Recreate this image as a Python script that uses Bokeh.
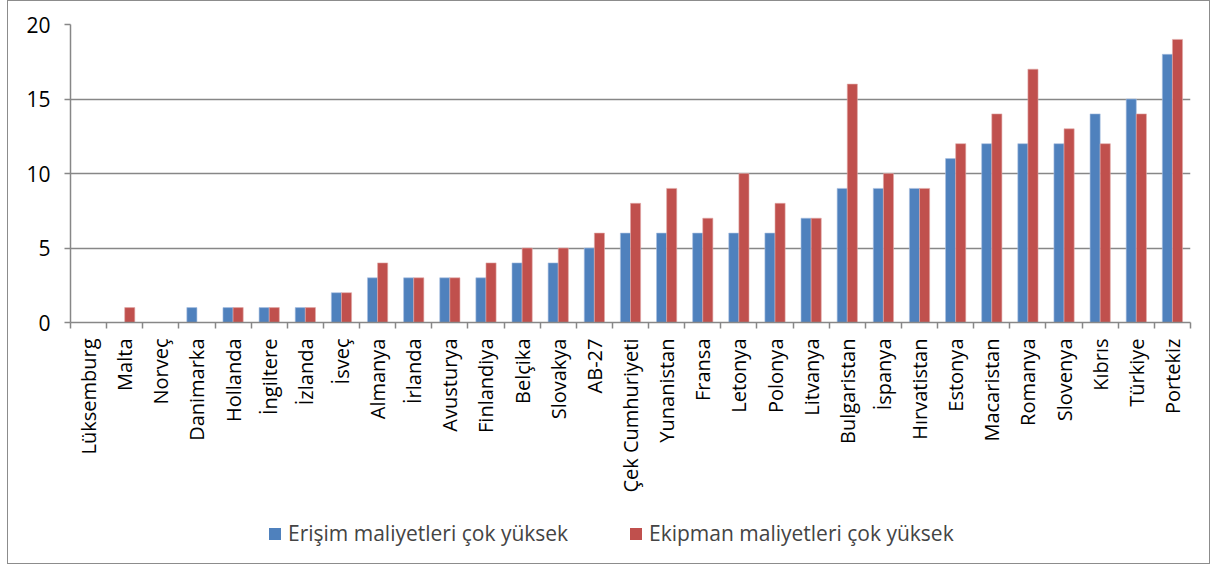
import math
from bokeh.plotting import figure
from bokeh.layouts import column
from bokeh.models import Range1d, FixedTicker, Legend, LegendItem
from bokeh.embed import file_html
from bokeh.resources import INLINE

countries = ["Lüksemburg", "Malta", "Norveç", "Danimarka", "Hollanda", "İngiltere", "İzlanda",
             "İsveç", "Almanya", "İrlanda", "Avusturya", "Finlandiya", "Belçika", "Slovakya",
             "AB-27", "Çek Cumhuriyeti", "Yunanistan", "Fransa", "Letonya", "Polonya", "Litvanya",
             "Bulgaristan", "İspanya", "Hırvatistan", "Estonya", "Macaristan", "Romanya",
             "Slovenya", "Kıbrıs", "Türkiye", "Portekiz"]
erisim = [0, 0, 0, 1, 1, 1, 1, 2, 3, 3, 3, 3, 4, 4, 5, 6, 6, 6, 6, 6, 7, 9, 9, 9, 11, 12, 12, 12, 14, 15, 18]
ekipman = [0, 1, 0, 0, 1, 1, 1, 2, 4, 3, 3, 4, 5, 5, 6, 8, 9, 7, 10, 8, 7, 16, 10, 9, 12, 14, 17, 13, 12, 14, 19]
series_names = ["Erişim maliyetleri çok yüksek", "Ekipman maliyetleri çok yüksek"]
y_ticks = [0, 5, 10, 15, 20]

FONT = "Open Sans"
BLUE = "#4F81BD"
RED = "#C0504D"
GRAY = "#878787"

n = len(countries)
centers = [i + 0.5 for i in range(n)]
bounds = [float(i) for i in range(n + 1)]

W = 1201
H_MAIN = 517
H_LEG = 45

p = figure(width=W, height=H_MAIN, output_backend="svg", toolbar_location=None,
           x_range=Range1d(0, n), y_range=Range1d(0, 20),
           min_border_left=62, min_border_right=19, min_border_top=23, min_border_bottom=196)
p.outline_line_color = None
p.background_fill_color = "white"
p.border_fill_color = "white"

bw = 0.28
r1 = p.vbar(x=[c - bw / 2 for c in centers], top=erisim, width=bw, fill_color=BLUE,
            line_color="#a9c0e0", line_width=0.6)
r2 = p.vbar(x=[c + bw / 2 for c in centers], top=ekipman, width=bw, fill_color=RED,
            line_color="#e0a9a8", line_width=0.6)

# x axis
xa = p.xaxis[0]
xa.ticker = FixedTicker(ticks=centers, minor_ticks=bounds)
xa.major_label_overrides = {c: name for c, name in zip(centers, countries)}
xa.major_label_orientation = math.pi / 2
xa.major_tick_out = 0
xa.major_tick_in = 0
xa.minor_tick_out = 6
xa.minor_tick_in = 0
xa.minor_tick_line_color = GRAY
xa.axis_line_color = GRAY
xa.axis_line_width = 1.5
xa.minor_tick_line_width = 1.5
xa.major_label_text_font = FONT
xa.major_label_text_font_size = "20px"
xa.major_label_text_color = "black"
xa.major_label_standoff = 10

# y axis
ya = p.yaxis[0]
ya.ticker = FixedTicker(ticks=y_ticks)
ya.minor_tick_line_color = None
ya.major_tick_out = 6
ya.major_tick_in = 0
ya.major_tick_line_color = GRAY
ya.major_tick_line_width = 1.5
ya.axis_line_color = GRAY
ya.axis_line_width = 1.5
ya.major_label_text_font = FONT
ya.major_label_text_font_size = "21px"
ya.major_label_text_color = "black"
ya.major_label_standoff = 14

p.xgrid.grid_line_color = None
p.ygrid.ticker = FixedTicker(ticks=y_ticks[1:])
p.ygrid.grid_line_color = GRAY
p.ygrid.grid_line_width = 1.5

# legend strip
lf = figure(width=W, height=H_LEG, output_backend="svg", toolbar_location=None,
            x_range=Range1d(0, 1), y_range=Range1d(0, 1), min_border=0,
            x_axis_location=None, y_axis_location=None)
lf.grid.visible = False
lf.outline_line_color = None
lf.border_fill_color = "white"
lf.background_fill_color = "white"
lr1 = lf.vbar(x=[0.5], top=[0], bottom=[0], width=0.1, fill_color=BLUE, line_color=None)
lr2 = lf.vbar(x=[0.5], top=[0], bottom=[0], width=0.1, fill_color=RED, line_color=None)
legend = Legend(items=[LegendItem(label=series_names[0], renderers=[lr1]),
                       LegendItem(label=series_names[1], renderers=[lr2])],
                orientation="horizontal", location=(197, 16),
                label_text_font=FONT, label_text_font_size="21px",
                glyph_width=15, glyph_height=15, label_standoff=6, spacing=50,
                label_width=290, label_height=28,
                border_line_color=None, background_fill_alpha=0, margin=0, padding=0)
lf.add_layout(legend, "center")

layout = column(p, lf, spacing=0,
                styles={"border": "1px solid #8c8c8c", "margin-left": "7px"})

open("out.html", "w").write(file_html(layout, INLINE))
